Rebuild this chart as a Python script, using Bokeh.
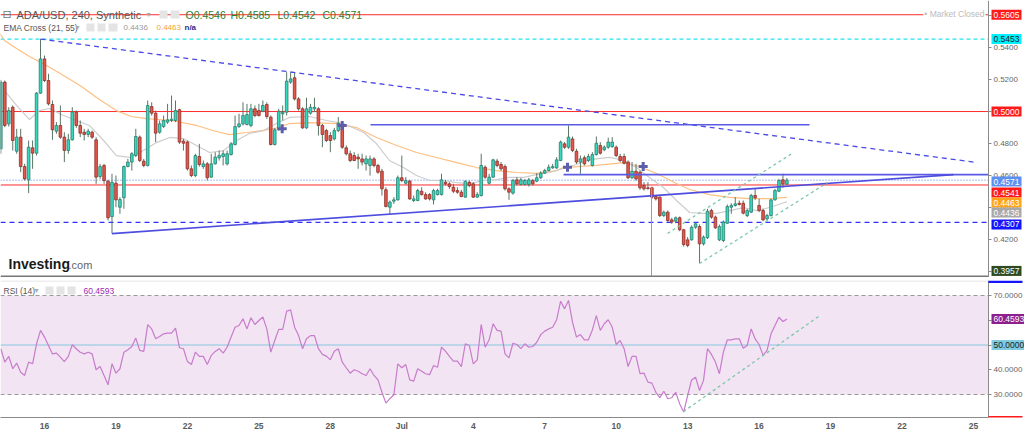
from bokeh.plotting import figure
from bokeh.layouts import column
from bokeh.models import (ColumnDataSource, Range1d, LinearAxis, FixedTicker,
                          PrintfTickFormatter, Label, BoxAnnotation)
from bokeh.embed import file_html
from bokeh.resources import INLINE

# ---------------- data (ADA/USD, 4h candles, first bar Jun 14 04:00) ----------------
opens = [
    .4767, .5184, .4923, .5027, .4752, .4840, .4656, .4573, .4773, .4740,
    .5115, .5329, .5194, .5044, .4877, .4913, .4840, .4757, .4823, .4996,
    .4913, .4871, .4857, .4871, .4823, .4594, .4663, .4565, .4344, .4552,
    .4402, .4461, .4656, .4684, .4725, .4840, .4690, .4663, .5031, .4990,
    .4871, .4906, .4934, .4944, .4944, .5011, .4815, .4809, .4642, .4600,
    .4719, .4656, .4673, .4590, .4673, .4711, .4719, .4673, .4731, .4794,
    .4906, .4923, .4919, .4913, .5017, .5006, .5002, .5044, .4965, .4794,
    .4886, .4986, .4996, .5184, .5211, .5079, .5017, .4898, .4990, .5017,
    .5017, .4913, .4881, .4850, .4829, .4881, .4913, .4773, .4736, .4725,
    .4715, .4704, .4673, .4663, .4704, .4663, .4627, .4511, .4402, .4440,
    .4448, .4586, .4552, .4565, .4444, .4444, .4502, .4481, .4481, .4448,
    .4481, .4481, .4558, .4548, .4527, .4506, .4496, .4465, .4558, .4548,
    .4465, .4475, .4652, .4552, .4590, .4690, .4669, .4656, .4517, .4490,
    .4573, .4544, .4544, .4544, .4569, .4565, .4586, .4615, .4631, .4648,
    .4648, .4694, .4798, .4777, .4829, .4752, .4684, .4711, .4694, .4663,
    .4731, .4788, .4761, .4777, .4781, .4777, .4719, .4719, .4684, .4586,
    .4627, .4621, .4538, .4523, .4523, .4469, .4465, .4350, .4371, .4323,
    .4315, .4336, .4261, .4198, .4198, .4277, .4281, .4173, .4211, .4381,
    .4340, .4198, .4194, .4302, .4402, .4413, .4427, .4427, .4350, .4371,
    .4475, .4413, .4381, .4329, .4350, .4448, .4502, .4573, .4546]
highs = [
    .5198, .5194, .5027, .5038, .4892, .4892, .4673, .4819, .4819, .5121,
    .5453, .5350, .5236, .5069, .4934, .5038, .4871, .4861, .5027, .5006,
    .4944, .4892, .4892, .4881, .4840, .4673, .4673, .4573, .4611, .4600,
    .4465, .4663, .4704, .4746, .4892, .4850, .4704, .5069, .5058, .5006,
    .4944, .4975, .5048, .5100, .5069, .5017, .4829, .4819, .4663, .4736,
    .4798, .4694, .4684, .4736, .4746, .4756, .4756, .4756, .4809, .4975,
    .4986, .5058, .5048, .5048, .5038, .5048, .5069, .5058, .4975, .4898,
    .5017, .5038, .5246, .5246, .5246, .5090, .5027, .5086, .5048, .5086,
    .5027, .4923, .4892, .4871, .4898, .4965, .4934, .4788, .4756, .4746,
    .4736, .4736, .4725, .4725, .4715, .4673, .4642, .4527, .4444, .4465,
    .4600, .4725, .4590, .4573, .4475, .4517, .4527, .4496, .4490, .4517,
    .4517, .4611, .4573, .4558, .4548, .4527, .4511, .4569, .4569, .4558,
    .4496, .4736, .4663, .4611, .4704, .4704, .4684, .4669, .4527, .4579,
    .4590, .4586, .4579, .4586, .4579, .4615, .4627, .4642, .4669, .4673,
    .4715, .4819, .4809, .4913, .4844, .4767, .4725, .4725, .4736, .4746,
    .4844, .4809, .4788, .4836, .4840, .4788, .4736, .4736, .4694, .4684,
    .4673, .4631, .4559, .4559, .4531, .4475, .4469, .4381, .4381, .4336,
    .4344, .4344, .4267, .4215, .4288, .4309, .4294, .4225, .4392, .4392,
    .4350, .4294, .4319, .4419, .4427, .4465, .4444, .4444, .4392, .4486,
    .4517, .4454, .4392, .4361, .4454, .4517, .4579, .4611, .4585]
lows = [
    .4736, .4902, .4906, .4756, .4736, .4621, .4569, .4490, .4642, .4725,
    .5111, .5184, .5038, .4823, .4861, .4829, .4684, .4736, .4819, .4898,
    .4840, .4819, .4840, .4829, .4548, .4579, .4548, .4319, .4237, .4402,
    .4361, .4392, .4652, .4631, .4715, .4684, .4652, .4656, .4975, .4809,
    .4861, .4898, .4923, .4934, .4934, .4798, .4756, .4631, .4590, .4590,
    .4656, .4642, .4569, .4586, .4669, .4694, .4663, .4663, .4725, .4788,
    .4898, .4913, .4913, .4902, .4965, .4969, .4996, .4954, .4788, .4788,
    .4881, .4944, .4975, .5173, .5069, .5006, .4892, .4892, .4981, .4996,
    .4850, .4777, .4809, .4746, .4819, .4871, .4767, .4725, .4684, .4690,
    .4642, .4663, .4631, .4600, .4652, .4611, .4475, .4402, .4357, .4423,
    .4444, .4559, .4544, .4448, .4434, .4440, .4475, .4448, .4444, .4419,
    .4475, .4475, .4538, .4517, .4490, .4486, .4465, .4461, .4527, .4461,
    .4461, .4469, .4579, .4544, .4586, .4652, .4631, .4506, .4448, .4481,
    .4538, .4538, .4538, .4531, .4538, .4558, .4579, .4611, .4627, .4642,
    .4642, .4690, .4767, .4767, .4746, .4673, .4611, .4663, .4684, .4656,
    .4725, .4731, .4752, .4767, .4773, .4715, .4684, .4669, .4579, .4579,
    .4569, .4511, .4506, .4511, .4454, .4444, .4340, .4340, .4309, .4298,
    .4302, .4252, .4156, .4152, .4194, .4267, .4052, .4163, .4204, .4330,
    .4267, .4190, .4184, .4298, .4361, .4406, .4413, .4357, .4340, .4365,
    .4448, .4371, .4315, .4319, .4344, .4444, .4496, .4523, .4542]
closes = [
    .5184, .4913, .5006, .4819, .4840, .4656, .4579, .4777, .4740, .5115,
    .5329, .5194, .5048, .4886, .4913, .4840, .4757, .4823, .4996, .4913,
    .4865, .4857, .4877, .4840, .4590, .4656, .4569, .4336, .4558, .4448,
    .4450, .4656, .4684, .4736, .4844, .4694, .4663, .5038, .4990, .4865,
    .4923, .4944, .4948, .4952, .5006, .4809, .4802, .4642, .4600, .4725,
    .4669, .4673, .4586, .4673, .4715, .4725, .4736, .4736, .4798, .4906,
    .4923, .4975, .4981, .5017, .4975, .4975, .5038, .4969, .4794, .4886,
    .5002, .4996, .5190, .5204, .5079, .5017, .4898, .5017, .5027, .5027,
    .4913, .4857, .4819, .4819, .4881, .4927, .4777, .4736, .4694, .4694,
    .4704, .4684, .4704, .4704, .4663, .4621, .4517, .4406, .4434, .4448,
    .4586, .4569, .4569, .4454, .4454, .4506, .4481, .4454, .4454, .4506,
    .4506, .4573, .4548, .4531, .4502, .4496, .4469, .4565, .4538, .4465,
    .4481, .4663, .4590, .4590, .4698, .4663, .4642, .4517, .4496, .4569,
    .4548, .4573, .4569, .4573, .4548, .4586, .4615, .4631, .4652, .4656,
    .4698, .4809, .4777, .4840, .4757, .4684, .4704, .4673, .4719, .4731,
    .4802, .4740, .4777, .4809, .4809, .4725, .4694, .4677, .4586, .4627,
    .4579, .4523, .4517, .4519, .4465, .4454, .4350, .4371, .4319, .4309,
    .4336, .4261, .4169, .4163, .4277, .4298, .4173, .4215, .4377, .4340,
    .4273, .4281, .4309, .4406, .4413, .4423, .4419, .4365, .4381, .4475,
    .4461, .4381, .4323, .4350, .4448, .4506, .4569, .4548, .4571]
rsi_vals = [
    48.5, 43.1, 45.4, 40.4, 42.7, 39.0, 37.7, 43.1, 42.4, 50.5,
    55.9, 53.2, 49.8, 46.4, 46.7, 45.1, 43.3, 45.4, 50.1, 48.5,
    47.1, 46.4, 47.1, 46.4, 40.0, 41.3, 37.7, 33.9, 42.4, 38.6,
    40.4, 47.1, 48.1, 49.4, 52.8, 47.8, 47.4, 58.2, 56.5, 52.5,
    53.4, 54.5, 54.8, 54.8, 56.8, 48.9, 48.5, 43.3, 42.1, 47.1,
    45.4, 45.4, 42.1, 45.8, 47.4, 48.5, 46.7, 49.1, 53.2, 57.2,
    57.9, 60.6, 56.5, 61.0, 58.3, 59.9, 61.3, 56.5, 47.1, 51.8,
    56.3, 56.3, 63.7, 64.2, 57.2, 53.8, 48.5, 52.5, 53.8, 53.8,
    48.5, 46.2, 45.5, 44.0, 47.5, 48.5, 43.1, 40.8, 38.6, 40.0,
    39.4, 38.4, 37.7, 40.4, 37.7, 35.9, 30.9, 26.5, 28.3, 29.9,
    42.4, 40.8, 42.1, 35.9, 35.4, 40.4, 39.4, 38.4, 38.0, 41.7,
    41.0, 49.1, 47.5, 45.4, 43.5, 43.5, 41.3, 50.5, 49.8, 42.4,
    44.0, 58.3, 49.1, 52.1, 58.6, 55.9, 55.6, 46.4, 44.8, 50.7,
    50.2, 48.5, 50.5, 49.1, 49.4, 51.1, 54.2, 55.6, 56.5, 57.2,
    60.2, 67.7, 64.6, 68.0, 59.2, 53.2, 54.2, 52.1, 52.1, 56.1,
    61.9, 55.9, 58.6, 60.2, 57.2, 50.2, 51.8, 48.5, 41.3, 45.4,
    45.4, 38.4, 38.6, 35.0, 34.6, 30.9, 28.7, 31.3, 28.3, 28.7,
    30.9, 26.2, 22.9, 29.6, 35.9, 37.0, 31.6, 35.7, 48.5, 46.2,
    43.1, 38.4, 47.1, 52.1, 52.1, 52.5, 52.5, 48.7, 49.8, 56.5,
    52.5, 50.2, 45.8, 47.8, 54.5, 57.9, 61.2, 59.5, 60.4593]

# EMA lines (time in day-of-June units, Jul 1 = 31)
ema21_t = [14.322, 14.825, 15.372, 15.792, 16.212, 16.798, 17.345, 17.883, 18.483, 19.017,
           19.567, 20.15, 20.7, 21.25, 21.833, 22.383, 22.933, 23.517, 24.067, 24.6,
           25.2, 25.733, 26.283, 27.133, 27.833, 28.55, 29.4, 29.933, 30.483, 31.067,
           31.617, 32.167, 32.75, 33.3, 33.85, 34.433, 34.983, 35.517, 36.117, 36.65,
           37.2, 37.783, 38.333, 38.883, 39.717, 40.317, 40.85, 41.4, 41.983, 42.533,
           43.083, 43.667, 44.217, 44.767, 45.35, 45.9, 46.433, 47.167]
ema21_v = [.5131, .5038, .4950, .5006, .5019, .4975, .4944, .4913, .4819, .4725,
           .4713, .4756, .4806, .4838, .4831, .4788, .4744, .4756, .4819, .4863,
           .4881, .4925, .4963, .4969, .4944, .4925, .4869, .4800, .4694, .4650,
           .4600, .4569, .4569, .4556, .4550, .4569, .4575, .4588, .4588, .4606,
           .4619, .4644, .4669, .4700, .4713, .4694, .4650, .4588, .4525, .4444,
           .4369, .4363, .4363, .4381, .4400, .4381, .4400, .4436]
ema55_t = [13.987, 14.322, 14.825, 15.372, 16.085, 16.798, 17.555, 18.183, 19.017, 19.65,
           20.283, 21.333, 22.383, 23.217, 23.767, 24.483, 25.117, 25.733, 26.283, 27.133,
           28.267, 29.1, 29.933, 30.783, 31.617, 32.45, 33.3, 34.133, 34.983, 35.817,
           36.65, 37.5, 37.783, 39.167, 40.317, 40.983, 41.7, 42.533, 43.083, 43.917,
           44.767, 45.6, 46.433, 47.167]
ema55_v = [.5519, .5444, .5394, .5344, .5288, .5225, .5156, .5088, .5006, .4969,
           .4956, .4944, .4913, .4875, .4856, .4869, .4881, .4897, .4925, .4931,
           .4925, .4900, .4838, .4788, .4744, .4713, .4681, .4650, .4631, .4619,
           .4613, .4631, .4650, .4663, .4681, .4656, .4613, .4550, .4513, .4481,
           .4463, .4456, .4456, .4463]

# drawings on the chart
down_t, down_v = [15.833, 55.17], [0.5453, 0.4681]
res_t, res_v = [29.686, 48.116], [0.4917, 0.4917]
mid_t, mid_v = [37.79, 55.63], [0.4606, 0.4606]
up_t, up_v = [18.833, 54.16], [0.4237, 0.4606]
vline_t, vline_v = [41.483, 41.483], [0.4525, 0.3963]
chan_up_t, chan_up_v = [42.155, 47.443], [0.4238, 0.4744]
chan_lo_t, chan_lo_v = [43.497, 48.871], [0.4050, 0.4556]
rsi_tl_t, rsi_tl_v = [42.826, 48.494], [23.1, 61.5]
cross_t = [25.979, 28.498, 37.956, 41.134]
cross_v = [0.4892, 0.4913, 0.4652, 0.4656]
red_levels = [0.5605, 0.5000, 0.4541]
cyan_level = 0.5453
blue_dash_level = 0.4307
last_price = 0.4571

tick_days = [16, 19, 22, 25, 28, 31, 34, 37, 40, 43, 46, 49, 52, 55]
tick_labels = ["16", "19", "22", "25", "28", "Jul", "4", "7", "10", "13", "16", "19", "22", "25"]
price_ticks = [0.40, 0.42, 0.44, 0.46, 0.48, 0.50, 0.52, 0.54, 0.56]
rsi_ticks = [30, 40, 50, 60, 70]

# price tags on the right axis: value, background, text colour, stacking shift (px down)
tag_vals = [0.5605, 0.5453, 0.5000, 0.4571, 0.4541, 0.4463, 0.4436, 0.4307, 0.3957]
tag_bg = ["#ff1a1a", "#00f0ff", "#ff1a1a", "#5c8ff0", "#ff1a1a", "#ffa31a", "#a8a8a8", "#1414ff", "#2f4a1f"]
tag_fg = ["white", "#222222", "white", "white", "white", "white", "white", "white", "white"]
tag_shift = [0, 0, 0, 1.4, 7.6, 5.1, 10.8, 2.0, -7.5]
rsi_tag_vals = [60.4593, 50.0]
rsi_tag_bg = ["#8e1f8e", "#7fcbe0"]
rsi_tag_fg = ["white", "#222222"]

# ---------------- geometry ----------------
n = len(closes)
t_start = 14 + 4 / 24
times = [t_start + i / 6 for i in range(n)]
PX_PER_DAY = 23.82
W = 1024
AX_PX = 988
FH = 277
X0 = 14.1528
X1 = X0 + W / PX_PER_DAY
XA = X0 + AX_PX / PX_PER_DAY          # position of the price axis
Y1 = 0.5694
Y0 = Y1 - FH / 1600.0
R_FH = 137
R_TOP = 70 + (295 - 280) / 2.475
R_BOT = R_TOP - R_FH / 2.475


def mx(px):
    return X0 + px / PX_PER_DAY


def my(py):
    return Y1 - py * (Y1 - Y0) / FH


def ry(py):
    return R_TOP - (py - 280) / 2.475


FONT = "Liberation Sans"
NARROW = "Liberation Sans Narrow, Liberation Sans"


def lab(fig, x, y, text, size, color, style="normal", align="left", font=FONT,
        bg=None, pad=0, xoff=0):
    kw = dict(x=x, y=y, text=text, text_font_size=f"{size}px", text_color=color,
              text_font=font, text_font_style=style, text_align=align,
              text_baseline="middle", x_offset=xoff)
    if bg is not None:
        kw["background_fill_color"] = bg
        kw["background_fill_alpha"] = 1.0
        kw["padding"] = pad
    fig.add_layout(Label(**kw))


def icon_box(fig, x0, x1, y0, y1, conv):
    fig.add_layout(BoxAnnotation(left=mx(x0), right=mx(x1), top=conv(y0), bottom=conv(y1),
                                 fill_color="#e4e4e4", fill_alpha=1, line_color=None))


def hline(fig, yv, **kw):
    fig.line([X0, XA], [yv, yv], **kw)


def value_axis(ticks):
    ax = LinearAxis(ticker=FixedTicker(ticks=ticks), formatter=PrintfTickFormatter(format="%.4f"),
                    fixed_location=XA)
    ax.axis_line_color = "#8a8a8a"
    ax.major_tick_line_color = "#8a8a8a"
    ax.major_tick_in = 0
    ax.major_tick_out = 3
    ax.minor_tick_line_color = None
    ax.major_label_standoff = 2
    ax.major_label_text_font_size = "8px"
    ax.major_label_text_color = "#666666"
    ax.major_label_text_font = FONT
    return ax


# ---------------- main price panel ----------------
p = figure(frame_width=W, frame_height=FH, x_range=Range1d(X0, X1), y_range=Range1d(Y0, Y1),
           output_backend="svg", toolbar_location=None, x_axis_location=None,
           y_axis_location=None, min_border_left=0, min_border_right=0,
           min_border_top=0, min_border_bottom=0, background_fill_color="white",
           border_fill_color="white")
p.outline_line_color = None
p.grid.visible = False
p.add_layout(value_axis(price_ticks), "right")

# horizontal levels
for lv in red_levels:
    hline(p, lv, line_color="#ff2b2b", line_width=1)
hline(p, cyan_level, line_color="#22e3f0", line_width=1.2, line_dash="4 3")
hline(p, blue_dash_level, line_color="#2f2fff", line_width=1.2, line_dash="5 4")
hline(p, last_price, line_color="#4c7cf0", line_width=1, line_dash="1 2")

# EMA lines
p.line(ema55_t, ema55_v, line_color="#ffbf80", line_width=1.2)
p.line(ema21_t, ema21_v, line_color="#cdcdcd", line_width=1.2)

# candles
inc = [c >= o for o, c in zip(opens, closes)]
src = ColumnDataSource(dict(
    t=times, h=highs, l=lows,
    top=[max(o, c) for o, c in zip(opens, closes)],
    bot=[min(o, c) for o, c in zip(opens, closes)],
    fill=["#35d9c0" if u else "#e4574b" for u in inc],
    edge=["#2b7c6c" if u else "#8c2f28" for u in inc],
))
p.segment(x0="t", y0="h", x1="t", y1="l", source=src, line_color="#5a7565", line_width=1)
p.vbar(x="t", width=0.11, top="top", bottom="bot", source=src,
       fill_color="fill", line_color="edge", line_width=0.8)

# drawings
p.line(down_t, down_v, line_color="#4a4ae6", line_width=1.3, line_dash="5 4")
p.line(res_t, res_v, line_color="#5a5ae6", line_width=1.6)
p.line(mid_t, mid_v, line_color="#5a5ae6", line_width=1.6)
p.line(up_t, up_v, line_color="#4d4de0", line_width=1.6)
p.line(vline_t, vline_v, line_color="#7f9ee8", line_width=1)
p.line(chan_up_t, chan_up_v, line_color="#7cc8a8", line_width=1.3, line_dash="3 3")
p.line(chan_lo_t, chan_lo_v, line_color="#7cc8a8", line_width=1.3, line_dash="3 3")
p.scatter(cross_t, cross_v, marker="cross", size=9, line_width=3, line_color="#5d5fa8")

# bottom border of the price panel
hline(p, my(276), line_color="#777777", line_width=2)

# header texts
lab(p, mx(2), my(14), "⊟", 11, "#777777", font="DejaVu Sans")
lab(p, mx(16), my(14), "ADA/USD, 240, Synthetic", 11, "#555555")
lab(p, mx(146), my(14), "▾", 8, "#aaaaaa", font="DejaVu Sans")
icon_box(p, 159, 167, 10, 18, my)
icon_box(p, 170, 179, 10, 18, my)
ohlc_txt = ["O0.4546", "H0.4585", "L0.4542", "C0.4571"]
ohlc_px = [185, 230, 277, 322]
for txt, px in zip(ohlc_txt, ohlc_px):
    lab(p, mx(px), my(14), txt, 10.5, "#2e7d32", font=NARROW)
lab(p, mx(3), my(27), "EMA Cross (21, 55)", 8.5, "#555555")
lab(p, mx(75), my(27), "▾", 8, "#aaaaaa", font="DejaVu Sans")
icon_box(p, 86, 94, 23, 31, my)
icon_box(p, 97, 105, 23, 31, my)
icon_box(p, 108, 117, 23, 31, my)
lab(p, mx(123), my(27), "0.4436", 8, "#9a9a9a", font=NARROW)
lab(p, mx(156), my(27), "0.4463", 8, "#f5a623", font=NARROW)
lab(p, mx(184), my(27), "n/a", 8, "#2c2c8c", style="bold")
lab(p, mx(985), my(13), "• Market Closed", 8.5, "#bbbbbb", align="right", bg="white", pad=1)
lab(p, mx(8), my(263), "Investing", 14, "#1a1a1a", style="bold")
lab(p, mx(68), my(264), ".com", 11, "#666666")

# right price tags
for v, bg, fg, sh in zip(tag_vals, tag_bg, tag_fg, tag_shift):
    lab(p, XA, v - sh * (Y1 - Y0) / FH, f"{v:.4f}", 8.5, fg, bg=bg, pad=2, xoff=3)

# ---------------- RSI panel ----------------
q = figure(frame_width=W, frame_height=R_FH, x_range=p.x_range, y_range=Range1d(R_BOT, R_TOP),
           output_backend="svg", toolbar_location=None, x_axis_location=None,
           y_axis_location=None, min_border_left=0, min_border_right=0,
           min_border_top=3, min_border_bottom=0, background_fill_color="white",
           border_fill_color="white")
q.outline_line_color = None
q.grid.visible = False

q.add_layout(BoxAnnotation(left=X0, right=XA, bottom=30, top=70, fill_color="#f2e4f2",
                           fill_alpha=1, line_color=None, level="underlay"))
hline(q, 70, line_color="#9a9a9a", line_width=1, line_dash="4 3")
hline(q, 30, line_color="#9a9a9a", line_width=1, line_dash="4 3")
hline(q, 50, line_color="#86c5dd", line_width=1.2)
hline(q, ry(280.5), line_color="#dddddd", line_width=1)
q.line(times, rsi_vals, line_color="#c77ccc", line_width=1.2)
q.line(rsi_tl_t, rsi_tl_v, line_color="#7cc8a8", line_width=1.3, line_dash="3 3")

xax = LinearAxis(ticker=FixedTicker(ticks=tick_days),
                 major_label_overrides={d: s for d, s in zip(tick_days, tick_labels)},
                 bounds=(X0, XA))
xax.axis_line_color = "#8a8a8a"
xax.major_tick_in = 0
xax.major_tick_out = 0
xax.minor_tick_line_color = None
xax.major_label_standoff = 3
xax.major_label_text_font_size = "8.5px"
xax.major_label_text_font_style = "bold"
xax.major_label_text_color = "#5a5a5a"
xax.major_label_text_font = FONT
q.add_layout(xax, "below")
q.add_layout(value_axis(rsi_ticks), "right")

# partly hidden tags at the panel edges
q.add_layout(BoxAnnotation(left=XA, right=mx(1022), top=ry(280), bottom=ry(282.5),
                           fill_color="#1414ff", fill_alpha=1, line_color=None))
q.add_layout(BoxAnnotation(left=XA, right=mx(1022), top=ry(415.5), bottom=ry(417.5),
                           fill_color="#ff1a1a", fill_alpha=1, line_color=None))

lab(q, mx(3), ry(290), "RSI (14)", 8.5, "#555555")
lab(q, mx(34), ry(290), "▾", 8, "#aaaaaa", font="DejaVu Sans")
icon_box(q, 45, 53, 286, 294, ry)
icon_box(q, 56, 64, 286, 294, ry)
icon_box(q, 67, 75, 286, 294, ry)
lab(q, mx(83), ry(290), "60.4593", 8.5, "#9c27b0", font=NARROW)
for v, bg, fg in zip(rsi_tag_vals, rsi_tag_bg, rsi_tag_fg):
    lab(q, XA, v, f"{v:.4f}", 8.5, fg, bg=bg, pad=2, xoff=3)

layout = column(p, q, spacing=0)
open("out.html", "w").write(file_html(layout, INLINE))
